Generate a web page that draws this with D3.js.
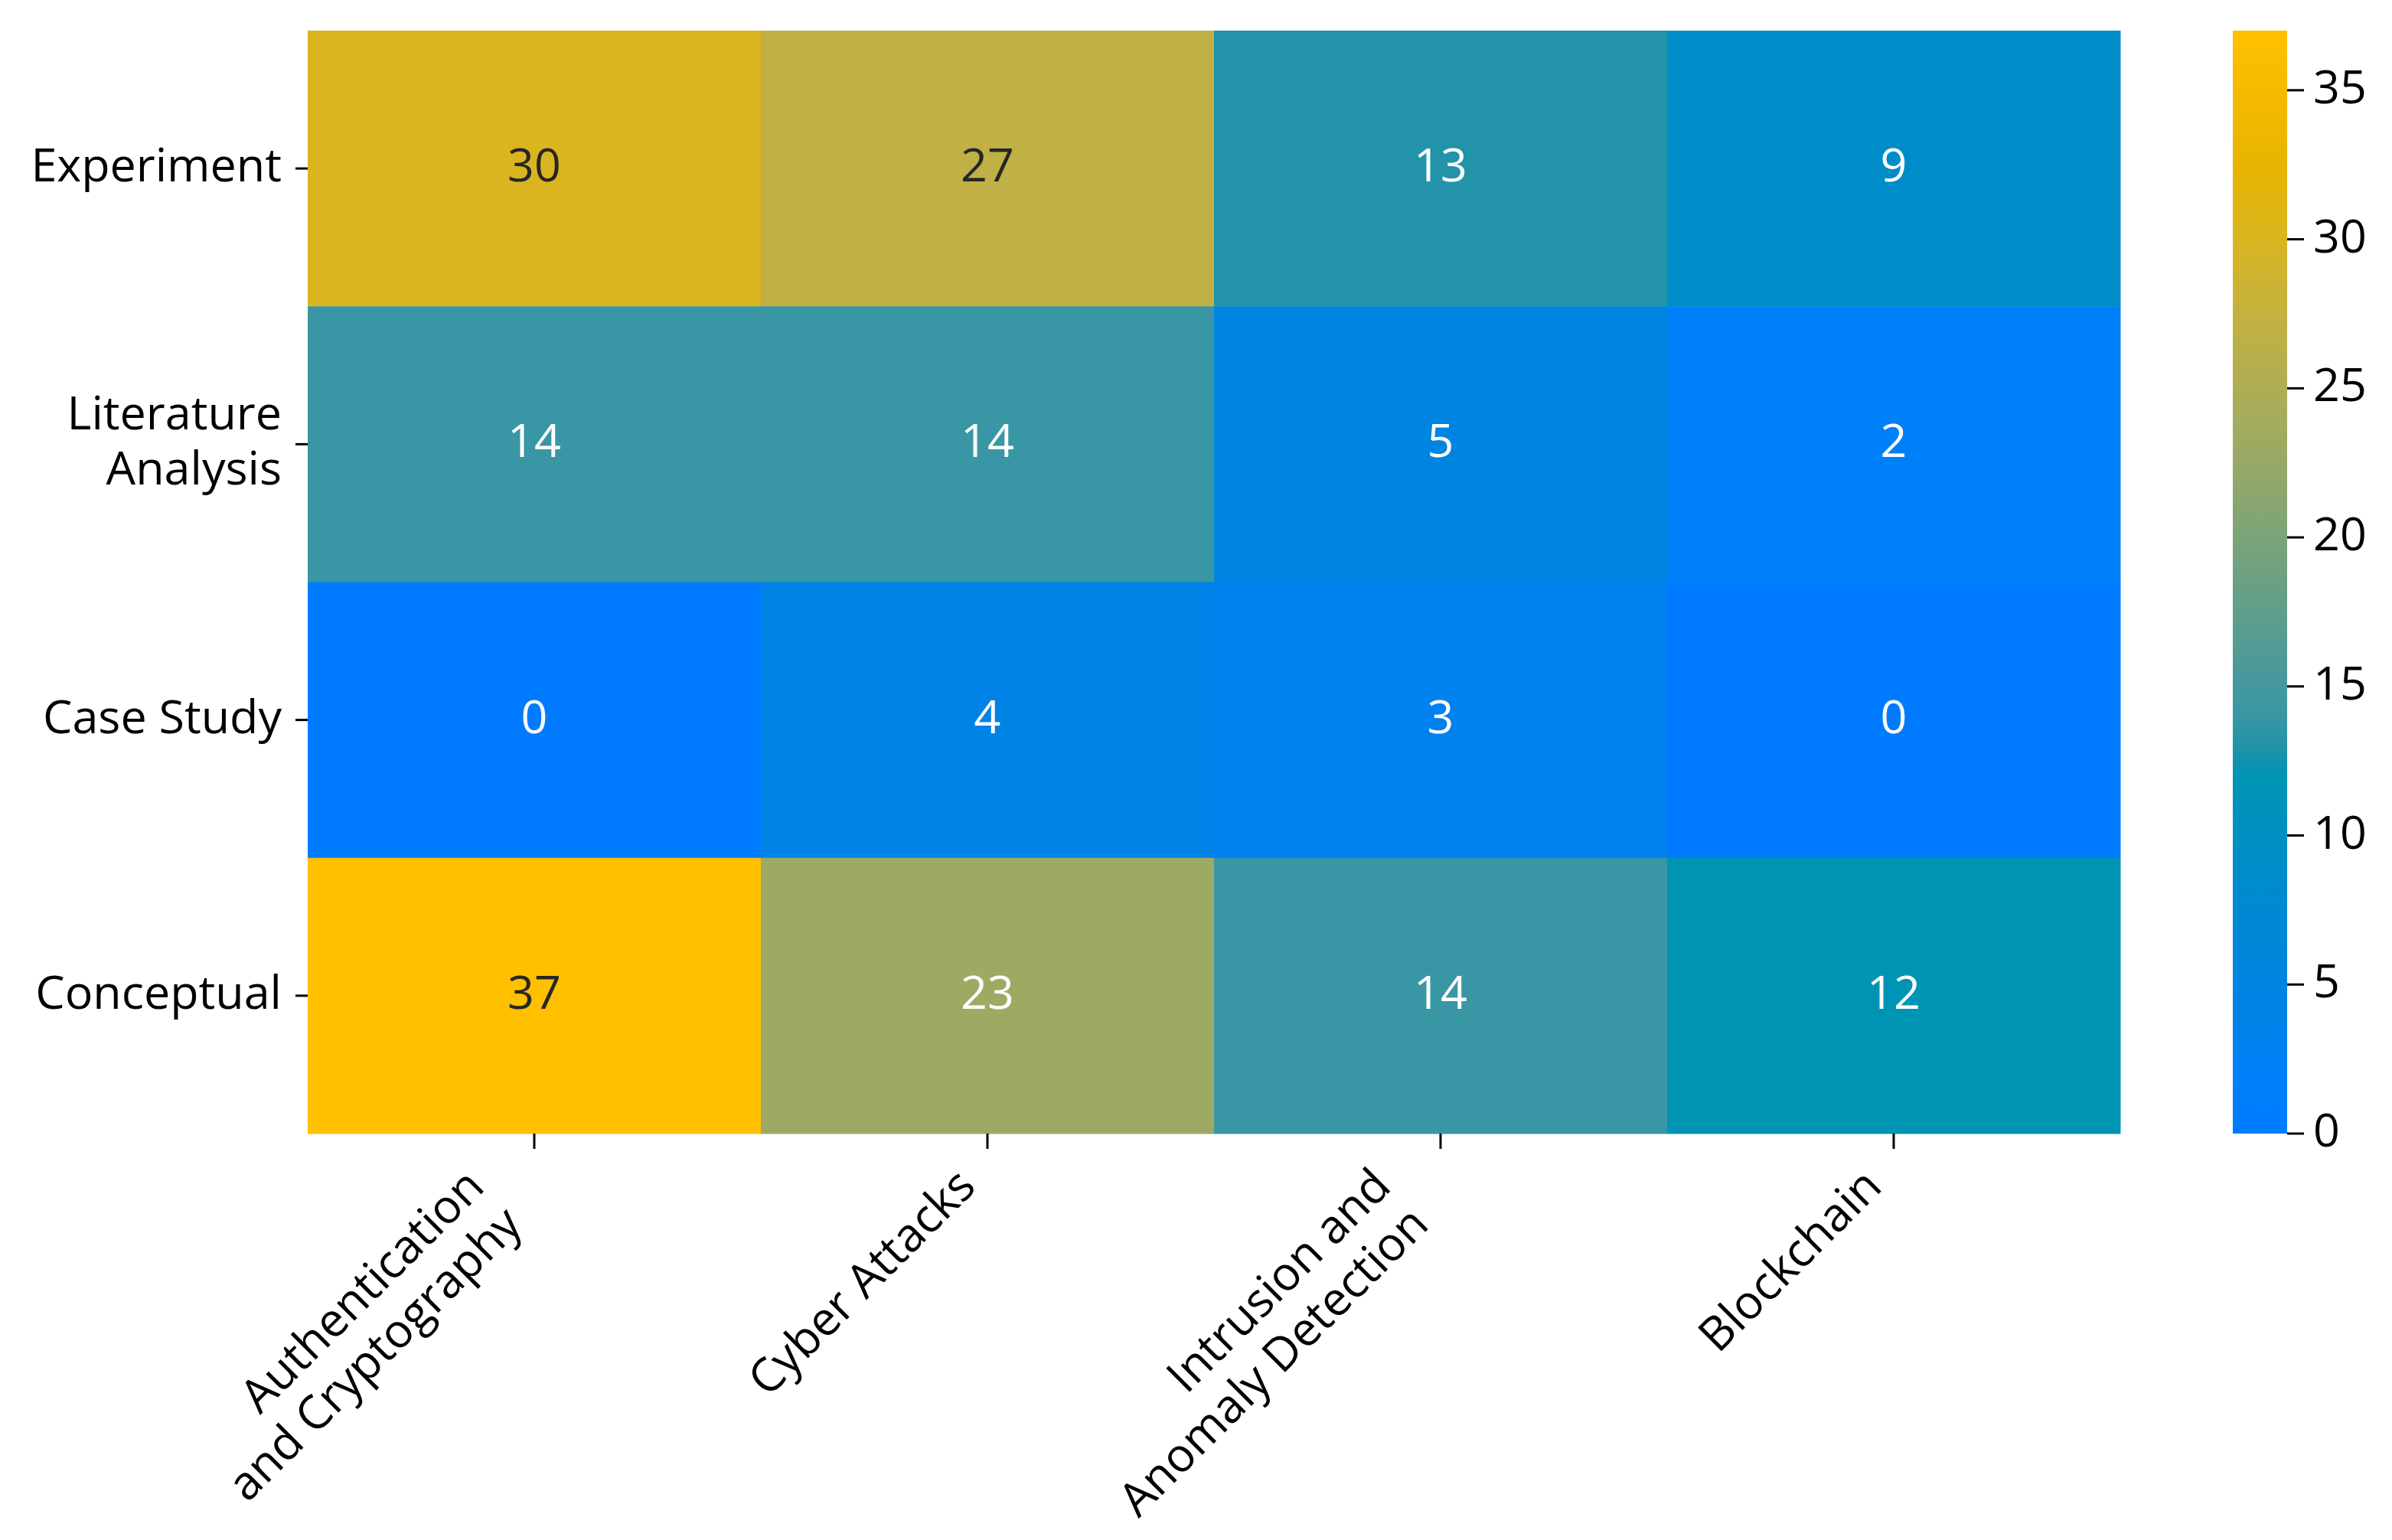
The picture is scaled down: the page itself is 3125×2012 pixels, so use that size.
<!DOCTYPE html>
<html>
<head>
<meta charset="utf-8">
<script src="https://cdn.jsdelivr.net/npm/d3@7"></script>
<style>
  html, body { margin: 0; padding: 0; background: #ffffff; }
  svg { display: block; }
  text { font-family: "Open Sans", "DejaVu Sans", sans-serif; }
</style>
</head>
<body>
<svg id="chart" width="3125" height="2012"></svg>
<script>
// ---------- data ----------
const rowLabels = [["Experiment"], ["Literature", "Analysis"], ["Case Study"], ["Conceptual"]];
const colLabels = [["Authentication", "and Cryptography"], ["Cyber Attacks"], ["Intrusion and", "Anomaly Detection"], ["Blockchain"]];
const experiment = [30, 27, 13, 9];
const literatureAnalysis = [14, 14, 5, 2];
const caseStudy = [0, 4, 3, 0];
const conceptual = [37, 23, 14, 12];
const colorbarTicks = [0, 5, 10, 15, 20, 25, 30, 35];
const colorMin = 0, colorMax = 37;
// colormap stops (value -> colour)
const cmapValues = [0, 2, 4, 5, 9, 12, 13, 14, 23, 27, 30, 32.5, 37];
const cmapColors = ["#007bff", "#0080f8", "#0082e6", "#0084e2", "#008cc8", "#0094b4", "#2293a8",
                    "#3996a5", "#9daa63", "#c0b045", "#dab520", "#e8b400", "#ffc000"];

const matrix = [experiment, literatureAnalysis, caseStudy, conceptual];

// ---------- layout ----------
const plot = { x0: 402, x1: 2770, y0: 40, y1: 1481 };
const cbar = { x0: 2917, x1: 2988 };
const FS = 61;
const svg = d3.select("#chart");

const x = d3.scaleBand().domain(d3.range(colLabels.length)).range([plot.x0, plot.x1]);
const y = d3.scaleBand().domain(d3.range(rowLabels.length)).range([plot.y0, plot.y1]);
const color = d3.scaleLinear().domain(cmapValues).range(cmapColors).interpolate(d3.interpolateRgb).clamp(true);

// ---------- cells ----------
const cells = [];
matrix.forEach((row, r) => row.forEach((v, c) => cells.push({ r, c, v })));

svg.append("g").selectAll("rect").data(cells).join("rect")
  .attr("x", d => x(d.c)).attr("y", d => y(d.r))
  .attr("width", x.bandwidth() + 0.5).attr("height", y.bandwidth() + 0.5)
  .attr("fill", d => color(d.v));

function lum(c) {
  const rgb = d3.rgb(c);
  const f = v => { v /= 255; return v <= 0.03928 ? v / 12.92 : Math.pow((v + 0.055) / 1.055, 2.4); };
  return 0.2126 * f(rgb.r) + 0.7152 * f(rgb.g) + 0.0722 * f(rgb.b);
}

svg.append("g").selectAll("text").data(cells).join("text")
  .attr("x", d => x(d.c) + x.bandwidth() / 2)
  .attr("y", d => y(d.r) + y.bandwidth() / 2 + 17)
  .attr("text-anchor", "middle")
  .attr("font-size", FS)
  .attr("fill", d => lum(color(d.v)) > 0.408 ? "#262626" : "#ffffff")
  .text(d => d.v);

// ---------- y axis ----------
const yTickLen = 16, yPad = 18;
const yAxis = svg.append("g");
rowLabels.forEach((lines, r) => {
  const cy = y(r) + y.bandwidth() / 2;
  yAxis.append("line").attr("x1", plot.x0 - yTickLen).attr("x2", plot.x0)
    .attr("y1", cy).attr("y2", cy).attr("stroke", "#000").attr("stroke-width", 3);
  const lh = 72;
  const t = yAxis.append("text").attr("text-anchor", "end").attr("font-size", FS).attr("fill", "#000");
  lines.forEach((ln, i) => {
    t.append("tspan").attr("x", plot.x0 - yTickLen - yPad)
      .attr("y", cy + 17 + (i - (lines.length - 1) / 2) * lh).text(ln);
  });
});

// ---------- x axis ----------
const xTickLen = 20, xPad = 6;
const xAxis = svg.append("g");
colLabels.forEach((lines, c) => {
  const cx = x(c) + x.bandwidth() / 2;
  xAxis.append("line").attr("x1", cx).attr("x2", cx)
    .attr("y1", plot.y1).attr("y2", plot.y1 + xTickLen).attr("stroke", "#000").attr("stroke-width", 3);
  const outer = xAxis.append("g");
  const inner = outer.append("g").attr("transform", "rotate(-45)");
  const t = inner.append("text").attr("text-anchor", "end").attr("font-size", FS).attr("fill", "#000");
  const lh = 70;
  lines.forEach((ln, i) => t.append("tspan").attr("x", 0).attr("y", i * lh).text(ln));
  const bb = outer.node().getBBox();
  outer.attr("transform", `translate(${cx - (bb.x + bb.width)},${plot.y1 + xTickLen + xPad - bb.y})`);
});

// ---------- colorbar ----------
const cy = d3.scaleLinear().domain([colorMin, colorMax]).range([plot.y1, plot.y0]);
const defs = svg.append("defs");
const grad = defs.append("linearGradient").attr("id", "cbgrad")
  .attr("x1", 0).attr("y1", 1).attr("x2", 0).attr("y2", 0);
cmapValues.filter(v => v <= colorMax).forEach(v => {
  grad.append("stop").attr("offset", (v - colorMin) / (colorMax - colorMin)).attr("stop-color", color(v));
});
svg.append("rect").attr("x", cbar.x0).attr("y", plot.y0)
  .attr("width", cbar.x1 - cbar.x0).attr("height", plot.y1 - plot.y0)
  .attr("fill", "url(#cbgrad)");

const cbAxis = svg.append("g");
colorbarTicks.forEach(v => {
  cbAxis.append("line").attr("x1", cbar.x1).attr("x2", cbar.x1 + 22)
    .attr("y1", cy(v)).attr("y2", cy(v)).attr("stroke", "#000").attr("stroke-width", 3);
  cbAxis.append("text").attr("x", cbar.x1 + 34).attr("y", cy(v) + 17)
    .attr("font-size", FS).attr("fill", "#000").text(v);
});
</script>
</body>
</html>
